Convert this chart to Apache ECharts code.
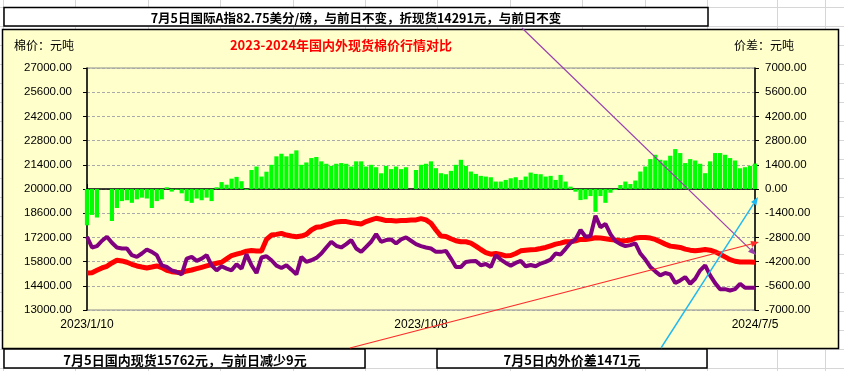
<!DOCTYPE html>
<html>
<head>
<meta charset="utf-8">
<script src="https://cdn.jsdelivr.net/npm/echarts@6/dist/echarts.min.js"></script>
<style>html,body{margin:0;padding:0;background:#fff;}#c{width:844px;height:371px;}</style>
</head>
<body>
<div id="c"></div>
<script>
// ---- data ----
const dateLabels = ['2023/1/10', '2023/10/8', '2024/7/5'];
const dateLabelIndex = [0, 67, 134];

// 国内现货 (red, left axis)
const domestic = [
  15139,15159,15295,15431,15528,15723,15878,15839,15761,15645,15548,15489,15431,15489,15548,15450,15295,15217,15178,15159,15256,15314,15392,15470,15548,15625,15703,15761,15956,16150,16228,16306,16403,16440,
  16420,16420,17083,17336,17375,17433,17336,17278,17239,17278,17375,17628,17783,17822,17919,18016,18094,18114,18114,18055,18016,17978,18114,18211,18308,18250,18172,18172,18153,18172,18172,18211,18211,
  18289,18211,18016,17628,17278,17258,17122,17006,16947,16947,16870,16695,16500,16325,16228,16267,16209,16131,16150,16267,16422,16461,16481,16500,16558,16617,16714,16811,16870,16947,16947,17006,17083,
  17083,17122,17180,17161,17122,17083,17044,17006,17006,17044,17161,17200,17200,17161,17083,16947,16811,16695,16656,16617,16520,16461,16422,16461,16500,16461,16364,16228,16072,15917,15820,15780,15775,15771,15762
];
// 国际A指折现货 (purple, left axis)
const international = [
  17239,16617,16695,17006,17239,16889,16617,16558,16558,16170,16072,16267,16500,16364,16170,15587,15489,15295,15198,15061,15975,16072,15839,15975,16170,15587,15295,15528,15392,15295,15645,15392,16228,15587,
  15139,16034,16111,15878,15567,15431,15587,15334,15061,16072,15781,15878,16014,16267,16617,16947,16714,16617,16811,17044,16558,16364,16656,16947,17394,16947,17044,17083,16850,17083,17200,17006,16811,
  16695,16617,16558,16364,16364,16422,15975,15489,15489,15781,15820,15839,15587,15664,15489,16170,15917,15723,15567,15723,15839,15528,15606,15528,15684,15781,15917,16267,16209,16539,16889,17083,17628,
  17239,17278,18450,17783,17978,17394,16986,16811,16695,16753,16850,16267,15917,15489,15237,15003,15139,15061,14556,14712,14906,14517,14809,15295,15587,15003,14556,14206,14206,14128,14206,14517,14284,14291,14291
];
// 内外价差 (green bars, right axis)
const spread = [
  -2100,-1500,-1650,null,null,-1850,-1100,-700,-650,-800,-600,-500,-550,-1100,-700,-600,100,-150,-50,-250,-700,-800,-550,-650,-500,-700,100,400,250,600,700,450,-50,1100,
  1300,720,1000,1400,1890,2040,1890,2040,2235,1400,1535,1790,1850,1600,1460,1340,1460,1500,1460,1300,1600,1600,1300,1400,1260,910,1340,1150,1300,1150,1260,null,1100,
  1400,1460,1600,1205,914,855,1050,1400,1690,1340,1010,875,760,720,680,430,430,525,620,680,525,720,950,875,855,720,760,525,816,430,136,-155,-640,
  -600,-410,-1320,-410,-800,-215,-60,230,430,290,490,1010,1300,1730,1980,1690,1650,1925,2310,2080,1500,1730,1650,1460,915,1600,2080,2080,1980,1790,1650,1200,1260,1340,1471
];

const leftTicks = {min: 13000, max: 27000, interval: 1400};
const rightTicks = {min: -7000, max: 7000, interval: 1400};

const titleText = '2023-2024年国内外现货棉价行情对比';
const topNote = '7月5日国际A指82.75美分/磅，与前日不变，折现货14291元，与前日不变';
const noteDomestic = '7月5日国内现货15762元，与前日减少9元';
const noteSpread = '7月5日内外价差1471元';

// ---- build ----
const categories = domestic.map((_, i) => 'd' + i);
const labelOf = {};
dateLabelIndex.forEach((idx, k) => { labelOf[idx] = dateLabels[k]; });
const showIdx = (i) => labelOf[i] !== undefined;

const CJK = '"Noto Sans CJK SC", sans-serif';
const NUM = '"Liberation Sans", Arial, sans-serif';

function arrow(x1, y1, x2, y2, color, w) {
  const a = Math.atan2(y2 - y1, x2 - x1);
  const L = 8, Hh = 3.2;
  const bx = x2 - L * Math.cos(a), by = y2 - L * Math.sin(a);
  const px = -Math.sin(a) * Hh, py = Math.cos(a) * Hh;
  return [
    {type: 'line', z: 100, shape: {x1, y1, x2: bx, y2: by}, style: {stroke: color, lineWidth: w}},
    {type: 'polygon', z: 100, shape: {points: [[x2, y2], [bx + px, by + py], [bx - px, by - py]]}, style: {fill: color}}
  ];
}

const g = [];
// spreadsheet grid
const rowYs = [7, 26, 45, 64, 83, 102, 121, 140, 159, 178, 197, 216, 235, 254, 273, 292, 311, 330, 349, 368];
rowYs.forEach(y => g.push({type: 'line', z: -100, shape: {x1: 0, y1: y + 0.5, x2: 844, y2: y + 0.5}, style: {stroke: '#d6d6d6', lineWidth: 1}}));
const colXs = [3, 75, 148, 220, 293, 365, 437, 510, 582, 645, 707, 777, 825];
colXs.forEach(x => g.push({type: 'line', z: -100, shape: {x1: x + 0.5, y1: 0, x2: x + 0.5, y2: 371}, style: {stroke: '#d6d6d6', lineWidth: 1}}));
// chart area
g.push({type: 'rect', z: -90, shape: {x: 2.5, y: 29.5, width: 836, height: 319}, style: {fill: '#FFFFCC', stroke: '#000', lineWidth: 1.5}});
// note boxes
g.push({type: 'rect', z: -80, shape: {x: 4, y: 7.5, width: 704, height: 18.5}, style: {fill: '#fff', stroke: '#000', lineWidth: 1.5}});
g.push({type: 'rect', z: -80, shape: {x: 4, y: 349, width: 361, height: 19}, style: {fill: '#fff', stroke: '#000', lineWidth: 1.5}});
g.push({type: 'rect', z: -80, shape: {x: 437, y: 349, width: 270, height: 19}, style: {fill: '#fff', stroke: '#000', lineWidth: 1.5}});
// texts
const txt = (text, x, y, font, fill, align) => ({type: 'text', z: 60, style: {text, x, y, font, fill, align: align || 'center', verticalAlign: 'middle', textAlign: align || 'center', textVerticalAlign: 'middle'}});
g.push(txt(topNote, 356, 18, 'bold 12.5px ' + CJK, '#000'));
g.push(txt(noteDomestic, 185, 360, 'bold 13px ' + CJK, '#000'));
g.push(txt(noteSpread, 572, 360, 'bold 13px ' + CJK, '#000'));
g.push(txt(titleText, 341, 45, 'bold 13px ' + CJK, '#FF0000'));
g.push(txt('棉价：元吨', 14, 45, '12px ' + CJK, '#000', 'left'));
g.push(txt('价差：元吨', 734, 45, '12px ' + CJK, '#000', 'left'));
// annotation arrows
arrow(522, 28, 756, 255, '#9B3FAE', 1.2).forEach(e => g.push(e));
arrow(350, 348, 759, 242, '#FF2A2A', 1.2).forEach(e => g.push(e));
arrow(661, 348, 758, 197, '#1EB8F2', 1.4).forEach(e => g.push(e));

const chart = echarts.init(document.getElementById('c'), null, {renderer: 'canvas'});
chart.setOption({
  animation: false,
  backgroundColor: '#ffffff',
  graphic: g,
  grid: {left: 87, top: 68, width: 668, height: 242, show: true, borderColor: '#8c8c8c', borderWidth: 1, backgroundColor: 'transparent', containLabel: false, outerBoundsMode: 'none'},
  xAxis: {
    type: 'category', data: categories, boundaryGap: false,
    axisLine: {show: true, lineStyle: {color: '#000', width: 1.5}},
    axisTick: {show: true, inside: true, length: 5, interval: (i) => showIdx(i), lineStyle: {color: '#000'}},
    axisLabel: {interval: (i) => showIdx(i), formatter: (v, i) => labelOf[i] || '', color: '#000', fontSize: 12, fontFamily: NUM, margin: 9, showMinLabel: true, showMaxLabel: true, hideOverlap: false},
    splitLine: {show: false}
  },
  yAxis: [
    {type: 'value', position: 'left', min: leftTicks.min, max: leftTicks.max, interval: leftTicks.interval,
      axisLine: {show: true, lineStyle: {color: '#000', width: 1.5}},
      axisTick: {show: true, length: 4, lineStyle: {color: '#000'}},
      axisLabel: {formatter: (v) => v.toFixed(2), color: '#000', fontSize: 11.5, fontFamily: NUM, margin: 15},
      splitLine: {show: true, lineStyle: {color: '#aaaaaa', type: [3, 2], width: 1}}},
    {type: 'value', position: 'right', min: rightTicks.min, max: rightTicks.max, interval: rightTicks.interval,
      axisLine: {show: true, lineStyle: {color: '#000', width: 1.5}},
      axisTick: {show: true, length: 4, lineStyle: {color: '#000'}},
      axisLabel: {formatter: (v) => v.toFixed(2), color: '#000', fontSize: 11.5, fontFamily: NUM, margin: 10},
      splitLine: {show: false}}
  ],
  series: [
    {name: '内外价差', type: 'bar', yAxisIndex: 1, data: spread, barWidth: 4.2, itemStyle: {color: '#00FF00'}, z: 2},
    {name: '国内现货', type: 'line', yAxisIndex: 0, data: domestic, symbol: 'none', connectNulls: true, lineStyle: {color: '#FF0000', width: 5}, itemStyle: {color: '#FF0000'}, z: 3},
    {name: '国际折现货', type: 'line', yAxisIndex: 0, data: international, symbol: 'none', connectNulls: true, lineStyle: {color: '#800080', width: 4}, itemStyle: {color: '#800080'}, z: 4}
  ]
});
</script>
</body>
</html>
